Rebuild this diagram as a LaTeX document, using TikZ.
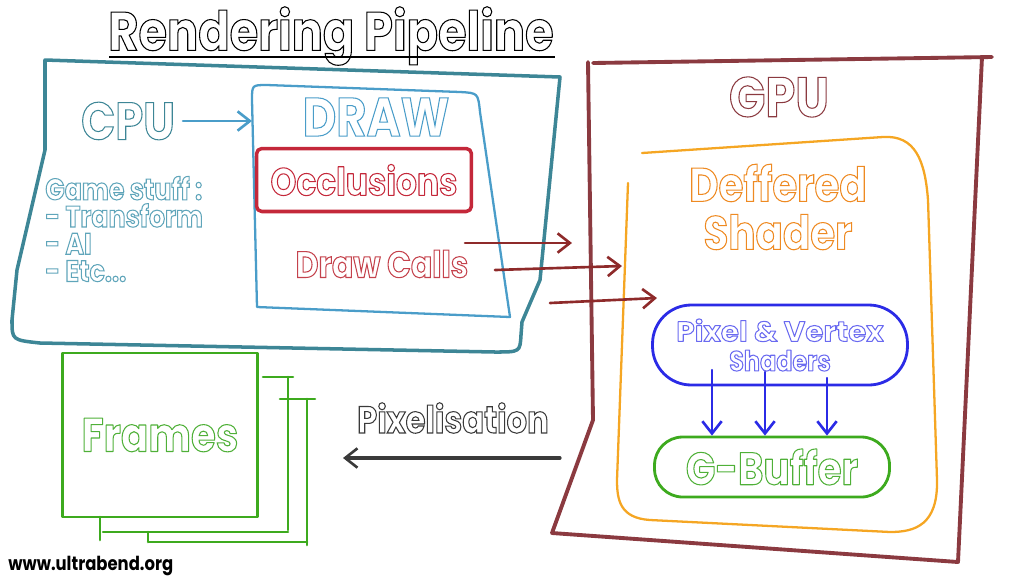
\documentclass[tikz,border=0pt]{standalone}
\usepackage{fontspec}
\setmainfont{Poppins}
\newfontfamily\handfont[FakeStretch=0.85]{Poppins}
\newfontfamily\handwide[FakeStretch=1.05]{Poppins}
\usetikzlibrary{arrows.meta}
\definecolor{cpuc}{HTML}{3D8696}
\definecolor{gamec}{HTML}{5FA5BA}
\definecolor{drawc}{HTML}{4A9DC9}
\definecolor{occc}{HTML}{C4283A}
\definecolor{callc}{HTML}{C4424C}
\definecolor{redarr}{HTML}{8E2A2A}
\definecolor{gpuc}{HTML}{8B3A40}
\definecolor{orangec}{HTML}{F5A623}
\definecolor{orangetxt}{HTML}{EE8A22}
\definecolor{bluec}{HTML}{2B2BE6}
\definecolor{bluetxt}{HTML}{6A6AF0}
\definecolor{greenc}{HTML}{3DAA1E}
\definecolor{greentxt}{HTML}{4FB038}
\definecolor{grayarr}{HTML}{3A3A3A}
% outlined lettering: stroke the glyphs instead of filling them
\newcommand\outl[2]{\textcolor{#1}{\special{pdf:literal direct 1 Tr 0.6 w}#2\special{pdf:literal direct 0 Tr}}}
\begin{document}
\begin{tikzpicture}[x=0.02cm,y=-0.02cm,
    sketch/.style={line width=1.6pt,line join=round,line cap=round},
    txt/.style={inner sep=0pt,font=\handfont\bfseries\fontsize{#1}{1.05\dimexpr#1pt\relax}\selectfont},
    arr/.style={->,line width=1.5pt,line cap=round,>={Straight Barb[length=7pt,width=11pt,line width=1.5pt]}}
  ]
  \useasboundingbox (0,0) rectangle (1024,576);

  % title
  \node[txt=31] (title) at (331,36) {\outl{black}{Rendering Pipeline}};
  \draw[line width=1.6pt] (109,57) -- (555,57);

  % CPU side
  \draw[sketch,cpuc,line width=2pt]
    (45,60) -- (560,77) -- (540,280) -- (522,322) -- (521,335) .. controls (520,352) .. (495,352)
    -- (40,343) .. controls (12,340) .. (12,320) -- (17,270) -- (45,150) -- cycle;
  \draw[sketch,drawc,line width=1.3pt]
    (257,307) -- (252,100) .. controls (252,85) .. (267,85) -- (460,92)
    .. controls (478,93) .. (480,112) -- (510,317) -- cycle;
  \node[txt=30] (cpu) at (128,121) {\outl{cpuc}{CPU}};
  \node[txt=31] (drawlbl) at (376,117) {\outl{drawc}{DRAW}};
  \coordinate (cpuE) at (183,121);
  \coordinate (drawW) at (252,121);
  \draw[arr,drawc] (cpuE) -- (drawW);

  \node[sketch,draw=occc,line width=2pt,rounded corners=3pt,minimum width=4.3cm,minimum height=1.26cm,
    txt=22] (occl) at (364,180) {\outl{occc}{Occlusions}};
  \node[txt=21] (calls) at (382,264) {\outl{callc}{Draw Calls}};

  \node[txt=17,anchor=north west,align=left,
    font=\handfont\bfseries\fontsize{17}{15.5}\selectfont] (game) at (45,176)
    {\outl{gamec}{Game stuff :}\\\outl{gamec}{- Transform}\\\outl{gamec}{- AI}\\\outl{gamec}{- Etc...}};

  % GPU side
  \draw[sketch,gpuc,line width=2.2pt]
    (593,63) -- (992,57) (982,57) -- (958,562) -- (552,533) -- (593,420) -- (588,62);
  \node[txt=32] (gpu) at (779,97) {\outl{gpuc}{GPU}};

  \draw[sketch,orangec,line width=1.3pt]
    (642,153) -- (883,137) .. controls (915,135) and (925,160) .. (928,200) -- (937,480)
    .. controls (938,525) and (915,532) .. (890,532) -- (650,520)
    .. controls (620,518) and (617,500) .. (617,480) -- (628,183);
  \node[txt=27,align=center] (deferred) at (778,207)
    {\outl{orangetxt}{Deffered}\\[-1pt]\outl{orangetxt}{Shader}};

  \node[sketch,draw=bluec,rounded corners=22pt,minimum width=5.1cm,minimum height=1.6cm,
    txt=16,align=center] (shaders) at (780,345)
    {\handwide\outl{bluetxt}{Pixel \& Vertex}\\\outl{bluetxt}{Shaders}};
  \node[sketch,draw=greenc,rounded corners=16pt,minimum width=4.7cm,minimum height=1.2cm,
    txt=26] (gbuf) at (772,467) {\outl{greentxt}{G-Buffer}};

  \coordinate (s1) at (712,370);
  \coordinate (s2) at (765,372);
  \coordinate (s3) at (827,378);
  \foreach \s in {s1,s2,s3}
    \draw[arr,bluec,line width=1.3pt] (\s) -- (\s |- gbuf.north);

  % draw calls to GPU
  \coordinate (dc1) at (465,243); \coordinate (g1) at (572,243);
  \coordinate (dc2) at (495,270); \coordinate (g2) at (622,266);
  \coordinate (dc3) at (550,303); \coordinate (g3) at (657,298);
  \draw[arr,redarr] (dc1) -- (g1);
  \draw[arr,redarr] (dc2) -- (g2);
  \draw[arr,redarr] (dc3) -- (g3);

  % frames
  \node[sketch,draw=greenc,minimum width=3.9cm,minimum height=3.28cm,
    txt=27] (frames) at (160,435) {\outl{greentxt}{Frames}};
  \draw[sketch,greenc,line width=1.5pt] (263,377) -- (293,377)
    (288,377) -- (288,530) (288,532) -- (103,532) (100,517) -- (100,540);
  \draw[sketch,greenc,line width=1.5pt] (280,399) -- (315,399)
    (307,399) -- (307,545) (307,542) -- (148,542) (148,532) -- (148,542);

  % pixelisation
  \node[txt=21.5] (pix) at (453,418) {\outl{grayarr}{Pixelisation}};
  \coordinate (gpuW) at (560,458);
  \coordinate (framesE) at (343,458);
  \draw[arr,grayarr,line width=1.8pt] (gpuW) -- (framesE);

  \node[txt=11,anchor=west] (www) at (8,566) {www.ultrabend.org};
\end{tikzpicture}
\end{document}
